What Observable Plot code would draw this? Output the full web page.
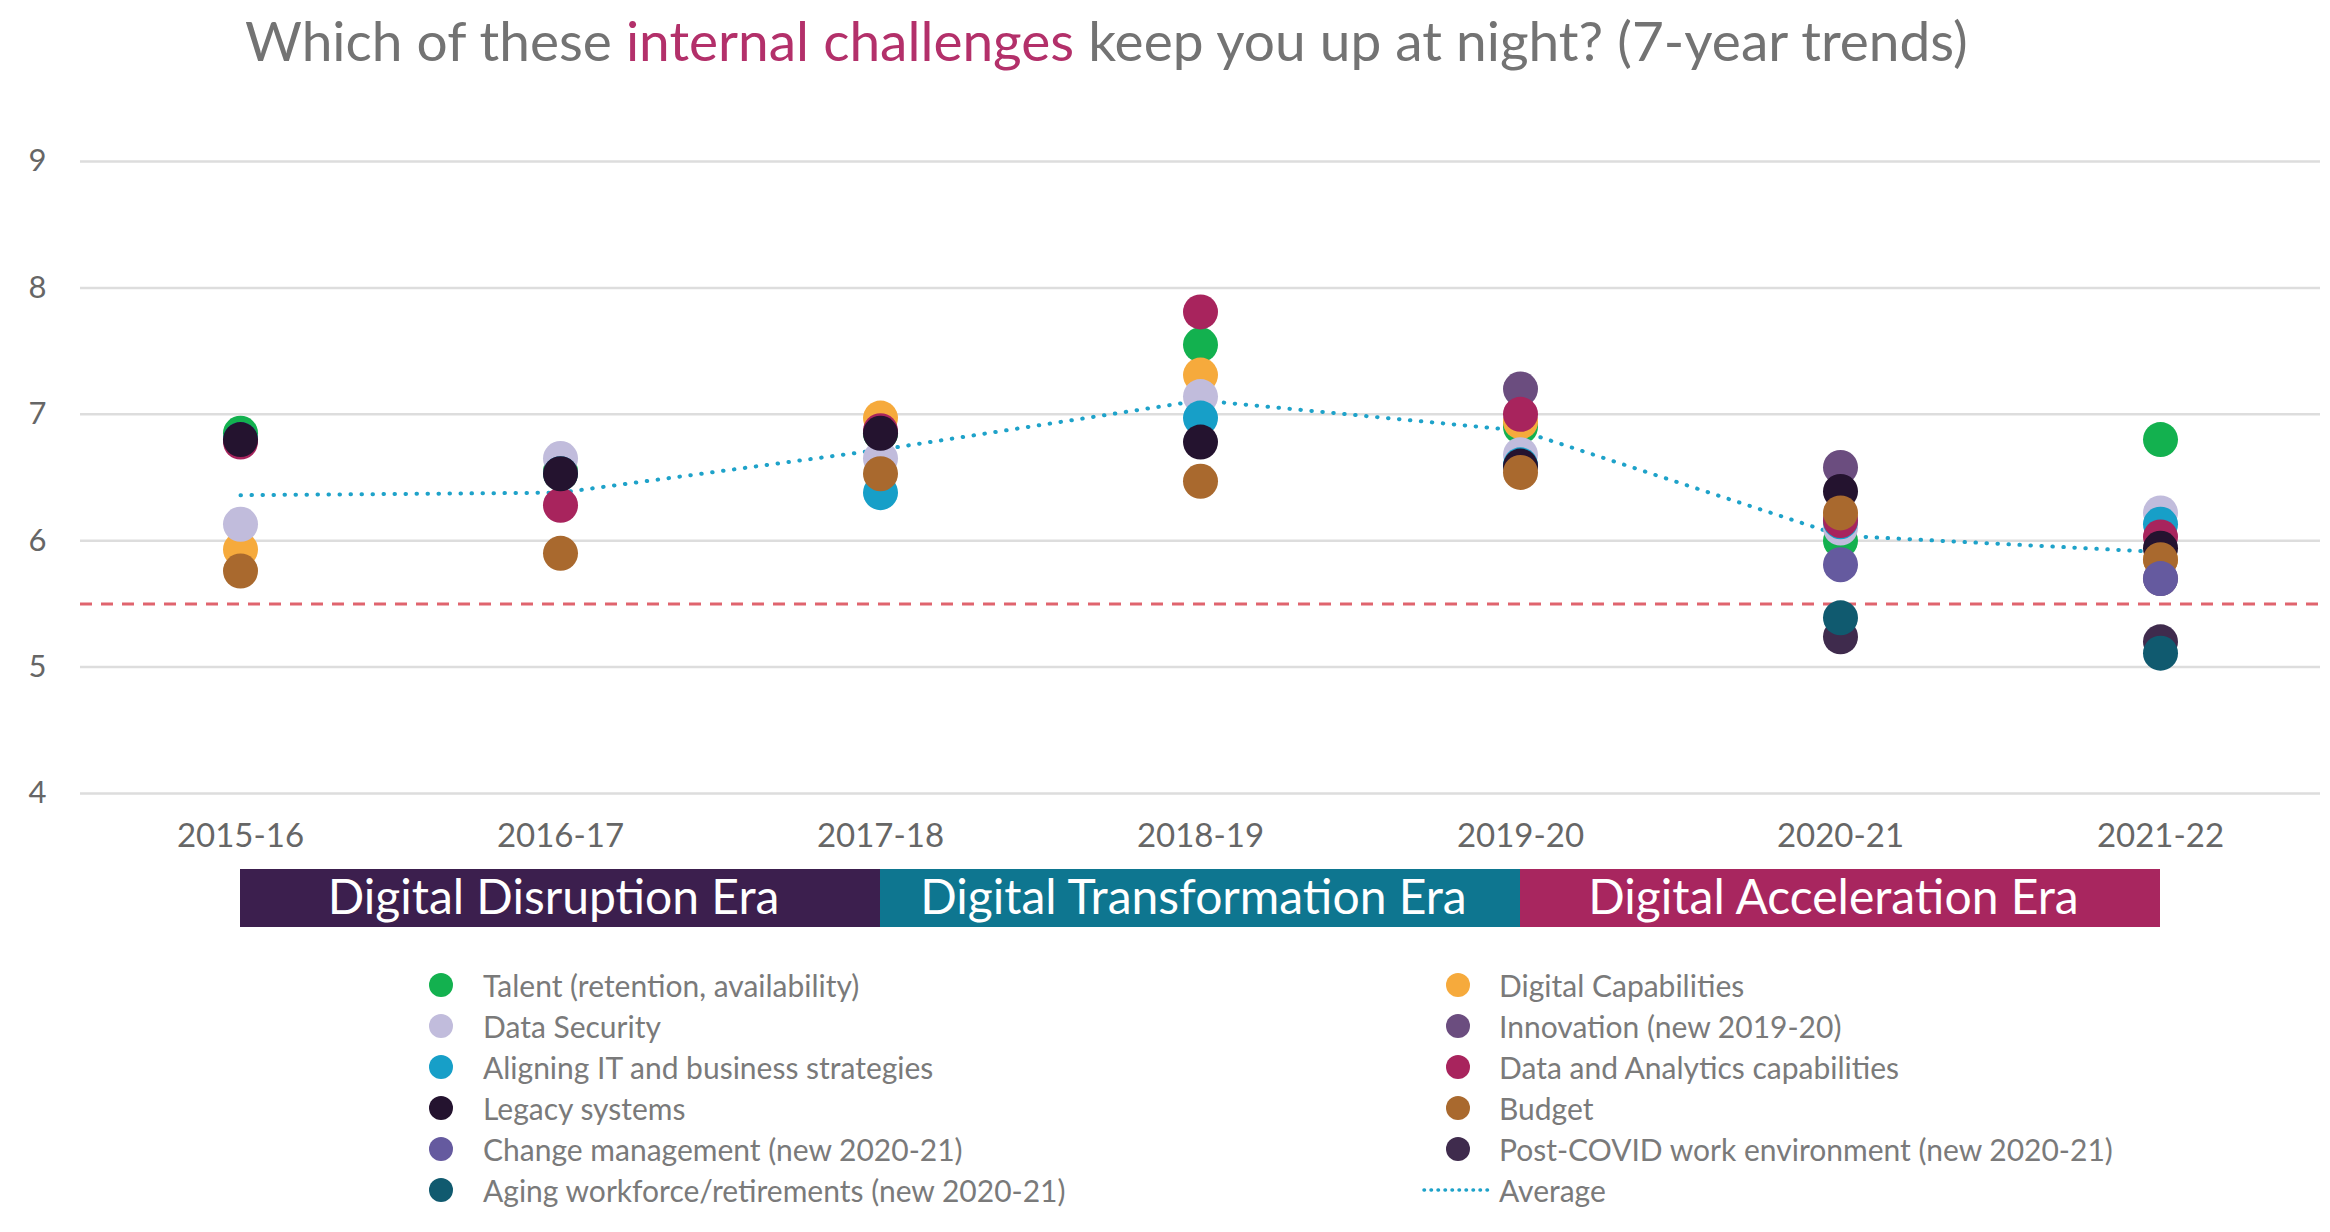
<!DOCTYPE html>
<html>
<head>
<meta charset="utf-8">
<script src="https://cdn.jsdelivr.net/npm/d3@7"></script>
<script src="https://cdn.jsdelivr.net/npm/@observablehq/plot@0.6"></script>
<style>
  html, body { margin: 0; padding: 0; background: #fff; }
  body { width: 2330px; height: 1232px; position: relative; overflow: hidden; font-family: Lato, "Noto Sans", sans-serif; }
  #title { position: absolute; left: 245px; top: 8px; font-size: 55px; line-height: 64px; color: #737373; white-space: nowrap; }
  #title .hl { color: #b3306a; }
  #chart { position: absolute; left: 0; top: 100px; }
  #era { position: absolute; left: 0; top: 869px; }
  .lg { position: absolute; font-size: 30px; color: #7a7a7a; white-space: nowrap; line-height: 40px; }
  .mk { position: absolute; width: 24px; height: 24px; border-radius: 50%; }
</style>
</head>
<body>
<div id="title">Which of these <span class="hl">internal challenges</span> keep you up at night? (7-year trends)</div>
<div id="chart"></div>
<div id="era"></div>
<div id="legend"></div>
<script>
// ---------- data ----------
const years = ["2015-16", "2016-17", "2017-18", "2018-19", "2019-20", "2020-21", "2021-22"];

// series names (drawing order, bottom to top)
const seriesNames = [
  "Talent (retention, availability)",
  "Digital Capabilities",
  "Data Security",
  "Innovation (new 2019-20)",
  "Aligning IT and business strategies",
  "Data and Analytics capabilities",
  "Legacy systems",
  "Budget",
  "Change management (new 2020-21)",
  "Post-COVID work environment (new 2020-21)",
  "Aging workforce/retirements (new 2020-21)"
];

const talent        = [6.85, 6.55, 6.85, 7.55, 6.90, 6.00, 6.80];
const digitalCap    = [5.93, 6.53, 6.97, 7.31, 6.94, 6.20, 5.85];
const dataSecurity  = [6.13, 6.65, 6.65, 7.14, 6.68, 6.10, 6.22];
const innovation    = [null, null, null, null, 7.20, 6.58, 5.70];
const aligningIT    = [6.80, 6.53, 6.38, 6.97, 6.60, 6.15, 6.13];
const dataAnalytics = [6.78, 6.28, 6.87, 7.81, 7.00, 6.16, 6.03];
const legacy        = [6.80, 6.53, 6.85, 6.78, 6.59, 6.39, 5.94];
const budget        = [5.76, 5.90, 6.53, 6.47, 6.54, 6.22, 5.85];
const changeMgmt    = [null, null, null, null, null, 5.81, 5.70];
const postCovid     = [null, null, null, null, null, 5.24, 5.20];
const agingWorkforce= [null, null, null, null, null, 5.39, 5.11];

const average = [6.36, 6.38, 6.72, 7.11, 6.87, 6.04, 5.91];
const threshold = 5.5;
const yTicks = [4, 5, 6, 7, 8, 9];

const eraNames  = ["Digital Disruption Era", "Digital Transformation Era", "Digital Acceleration Era"];
const eraStart  = ["2015-16", "2017-18", "2019-20"];
const eraEnd    = ["2017-18", "2019-20", "2021-22"];
const eraMid    = ["2016-17", "2018-19", "2020-21"];

// legend layout (two columns, as in the original)
const legendLeft  = [
  "Talent (retention, availability)",
  "Data Security",
  "Aligning IT and business strategies",
  "Legacy systems",
  "Change management (new 2020-21)",
  "Aging workforce/retirements (new 2020-21)"
];
const legendRight = [
  "Digital Capabilities",
  "Innovation (new 2019-20)",
  "Data and Analytics capabilities",
  "Budget",
  "Post-COVID work environment (new 2020-21)"
];

// ---------- styles ----------
const palette = {
  "Talent (retention, availability)": "#13b14f",
  "Digital Capabilities": "#f6aa3c",
  "Data Security": "#c1bcdc",
  "Innovation (new 2019-20)": "#6b4d7f",
  "Aligning IT and business strategies": "#179fc8",
  "Data and Analytics capabilities": "#a8245d",
  "Legacy systems": "#24132f",
  "Budget": "#a9692e",
  "Change management (new 2020-21)": "#655a9f",
  "Post-COVID work environment (new 2020-21)": "#3f2b4d",
  "Aging workforce/retirements (new 2020-21)": "#105a6f"
};
const eraColors = ["#3c1f4e", "#0e7690", "#a8265f"];
const avgColor = "#1ea2c9";

// ---------- build tables ----------
const seriesValues = [talent, digitalCap, dataSecurity, innovation, aligningIT, dataAnalytics, legacy, budget, changeMgmt, postCovid, agingWorkforce];
const dots = [];
seriesNames.forEach((name, si) => {
  years.forEach((yr, yi) => {
    const v = seriesValues[si][yi];
    if (v != null) dots.push({series: name, year: yr, value: v});
  });
});
const avgData = years.map((yr, i) => ({year: yr, value: average[i]}));
const eras = eraNames.map((n, i) => ({name: n, start: eraStart[i], end: eraEnd[i], mid: eraMid[i]}));

const xScale = {type: "point", domain: years, padding: 0.5};

// ---------- main chart ----------
const chart = Plot.plot({
  width: 2330,
  height: 769,
  marginLeft: 80,
  marginRight: 10,
  marginTop: 61,
  marginBottom: 76,
  style: {fontFamily: "Lato, 'Noto Sans', sans-serif", color: "#666", background: "white", overflow: "visible"},
  x: {...xScale, label: null},
  y: {domain: [4, 9], label: null},
  color: {domain: seriesNames, range: seriesNames.map(n => palette[n])},
  marks: [
    Plot.gridY(yTicks, {stroke: "#dddddd", strokeOpacity: 1, strokeWidth: 2.5}),
    Plot.ruleY([threshold], {stroke: "#e0646e", strokeWidth: 3, strokeDasharray: "12,9"}),
    Plot.line(avgData, {x: "year", y: "value", stroke: avgColor, strokeWidth: 4, strokeDasharray: "0.5,10.5", strokeLinecap: "round"}),
    Plot.dot(dots, {x: "year", y: "value", r: 17.5, fill: "series", stroke: "none"}),
    Plot.axisX({tickSize: 0, tickPadding: 30, fontSize: 33}),
    Plot.axisY(yTicks, {tickSize: 0, tickPadding: 34, fontSize: 31, tickFormat: d3.format("d")})
  ]
});
document.getElementById("chart").appendChild(chart);

// ---------- era band ----------
const eraBand = Plot.plot({
  width: 2330,
  height: 58,
  marginLeft: 80,
  marginRight: 10,
  marginTop: 0,
  marginBottom: 0,
  style: {fontFamily: "Lato, 'Noto Sans', sans-serif", background: "white", overflow: "visible"},
  x: {...xScale, axis: null},
  y: {domain: [0, 1], axis: null},
  color: {domain: eraNames, range: eraColors},
  marks: [
    Plot.rect(eras, {x1: "start", x2: "end", y1: 0, y2: 1, fill: "name"}),
    Plot.text(eras, {x: "mid", y: 0.5, text: "name", fill: "white", fontSize: 48, dx: -7})
  ]
});
document.getElementById("era").appendChild(eraBand);

// ---------- legend ----------
const legend = document.getElementById("legend");
function addItem(label, markerX, textX, cy, isAvg) {
  if (isAvg) {
    const svg = document.createElementNS("http://www.w3.org/2000/svg", "svg");
    svg.setAttribute("width", 70); svg.setAttribute("height", 10);
    svg.style.position = "absolute"; svg.style.left = (markerX) + "px"; svg.style.top = (cy - 5) + "px";
    svg.innerHTML = `<line x1="2" y1="5" x2="68" y2="5" stroke="${avgColor}" stroke-width="3.5" stroke-dasharray="0.5,6.5" stroke-linecap="round"/>`;
    legend.appendChild(svg);
  } else {
    const m = document.createElement("div");
    m.className = "mk";
    m.style.left = (markerX - 12) + "px";
    m.style.top = (cy - 12) + "px";
    m.style.background = palette[label];
    legend.appendChild(m);
  }
  const t = document.createElement("div");
  t.className = "lg";
  t.textContent = label;
  t.style.left = textX + "px";
  t.style.top = (cy - 20) + "px";
  legend.appendChild(t);
}
const rowY = i => 985 + i * 41;
legendLeft.forEach((n, i) => addItem(n, 441, 483, rowY(i), false));
legendRight.forEach((n, i) => addItem(n, 1458, 1499, rowY(i), false));
addItem("Average", 1422, 1499, rowY(5), true);
</script>
</body>
</html>
